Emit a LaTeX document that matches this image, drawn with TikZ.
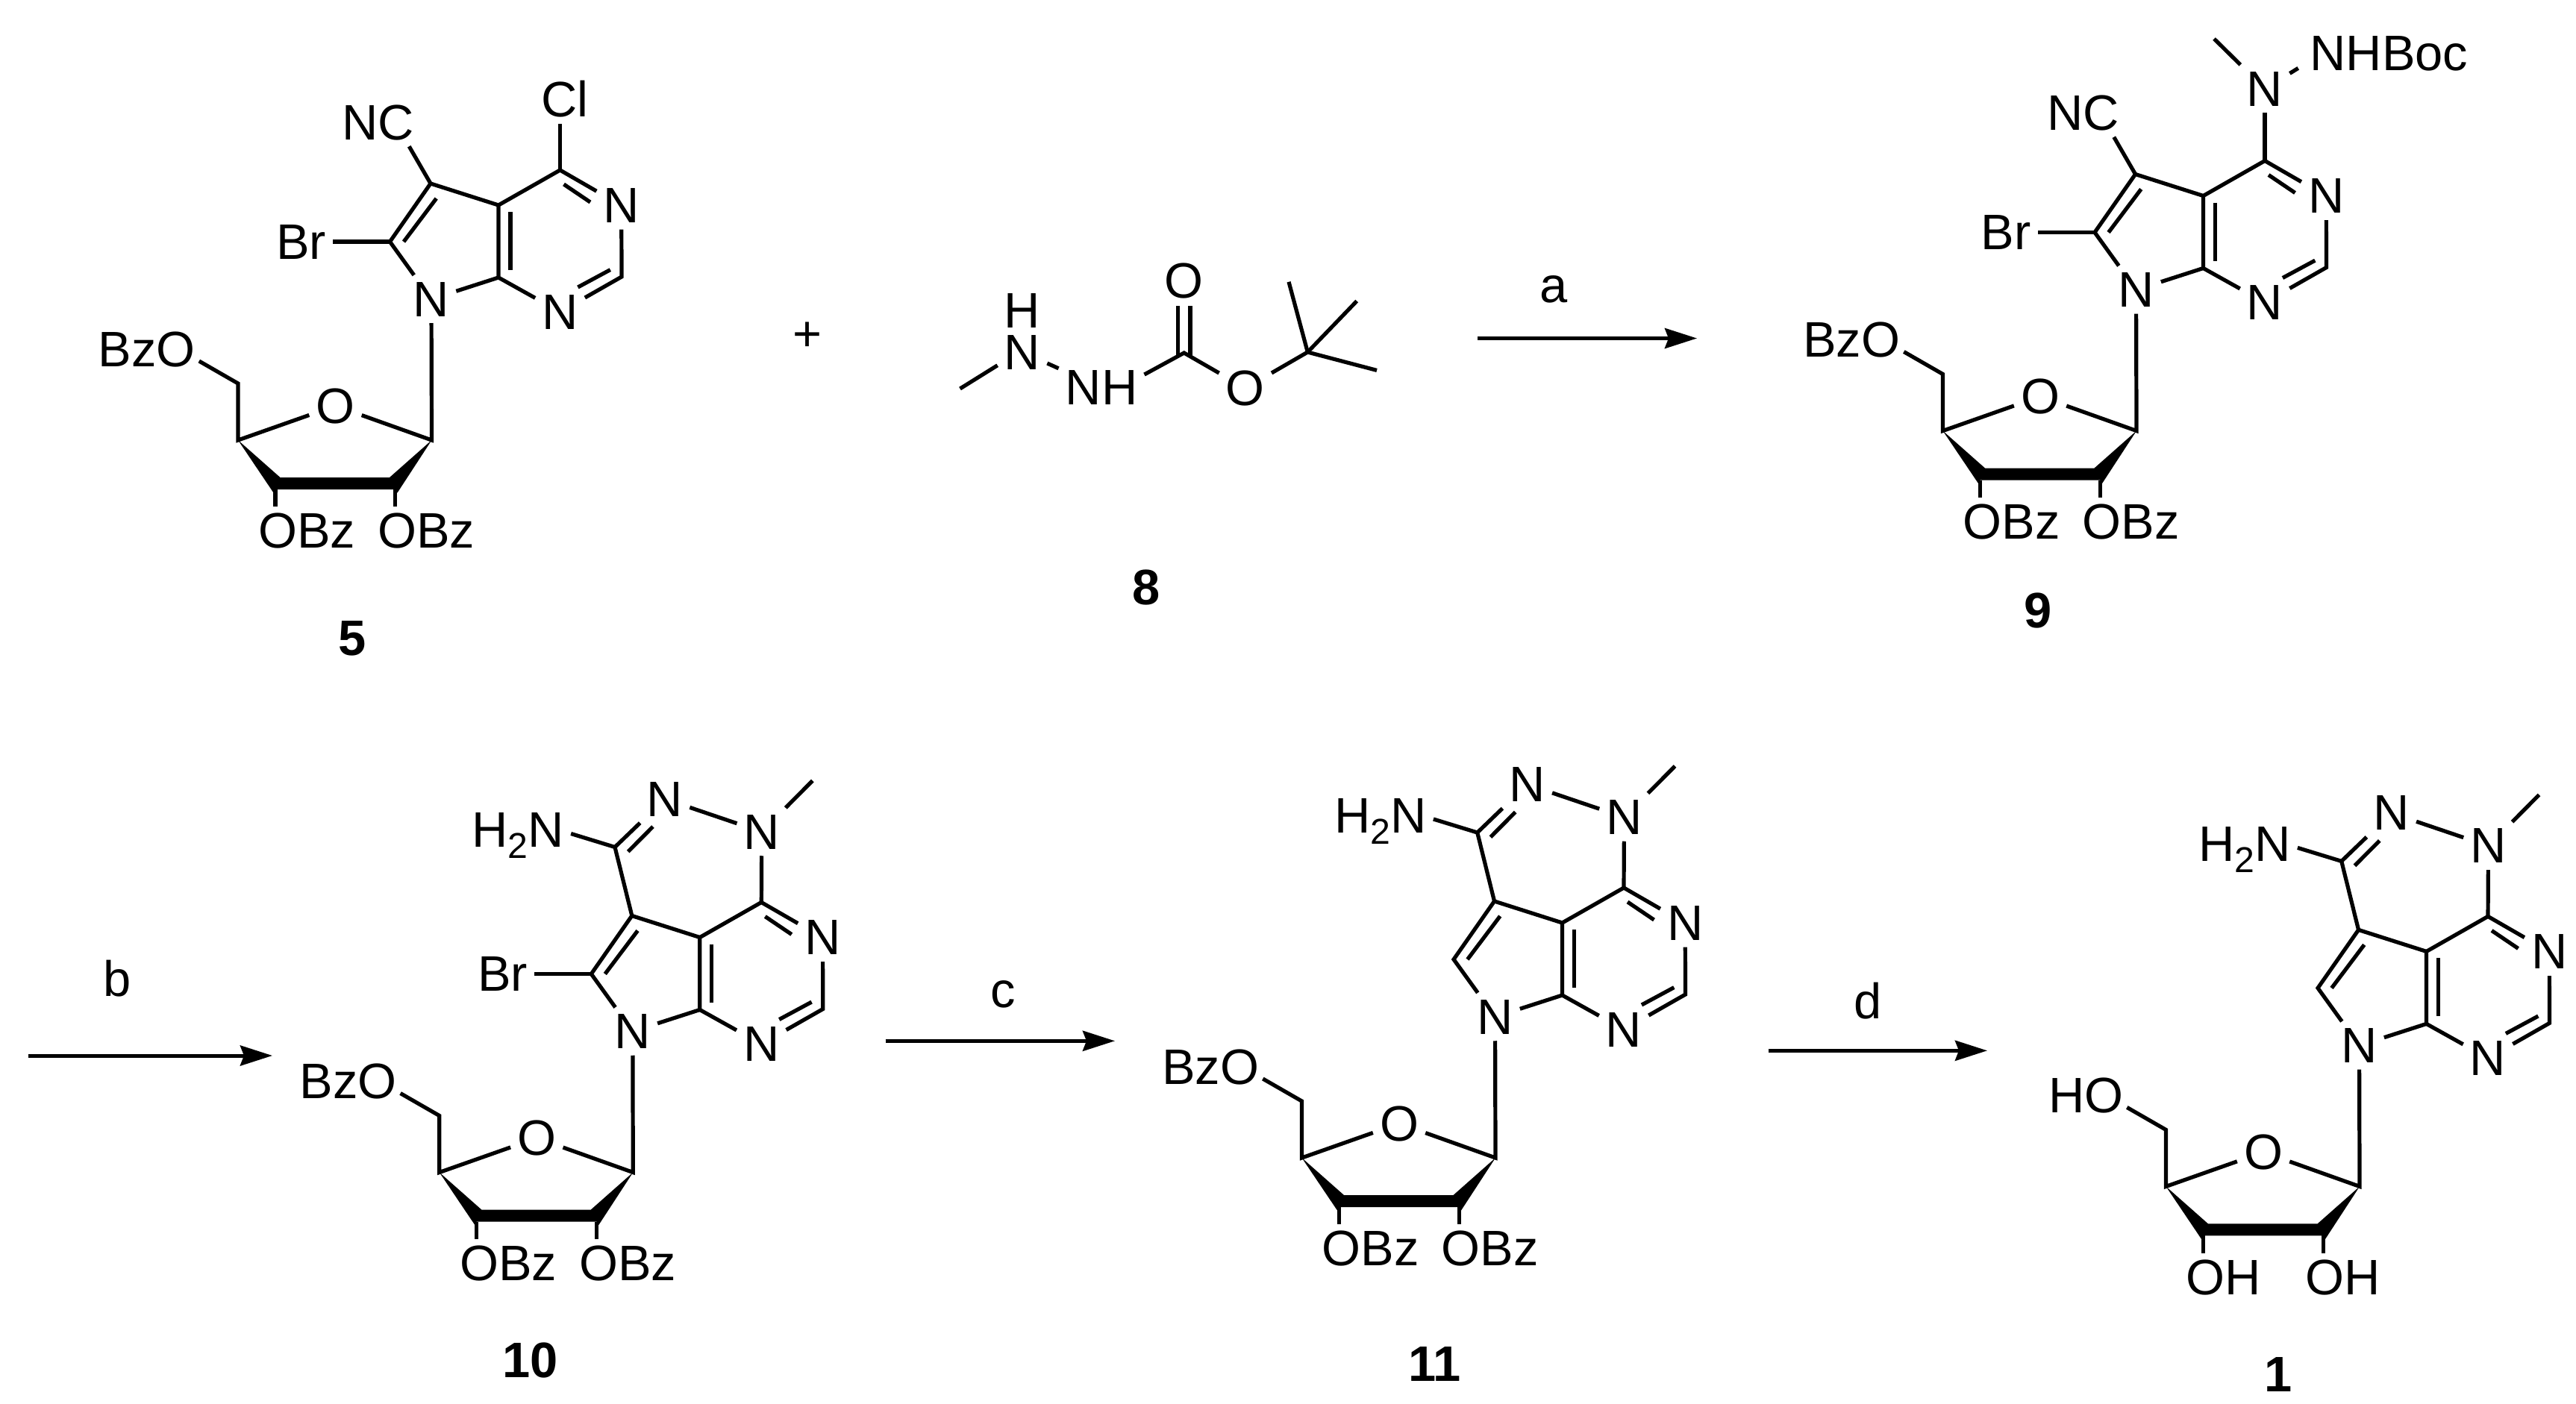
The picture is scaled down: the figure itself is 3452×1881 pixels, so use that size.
\documentclass[tikz,border=0pt]{standalone}
\usepackage{fontspec}
\setmainfont{Liberation Sans}
\usetikzlibrary{arrows.meta}

\tikzset{
  atom/.style={font=\fontsize{19pt}{19pt}\selectfont, text height=0.46cm, text depth=0pt, inner sep=0.085cm},
  cpdlabel/.style={atom, font=\fontsize{19pt}{19pt}\selectfont\bfseries},
  bond/.style={line width=0.052cm, line join=miter},
  rxnarrow/.style={line width=0.05cm, -{Stealth[length=0.43cm, width=0.27cm, inset=0.05cm]}}
}

\newcommand{\subtwo}{\raisebox{-0.23em}{\fontsize{13.7pt}{13.7pt}\selectfont 2}}

\newcommand{\fusedrings}{
  \coordinate (c4) at (750.5,228);
  \coordinate (c2) at (833,371);
  \coordinate (c7a) at (668,372);
  \coordinate (c4a) at (668,275);
  \coordinate (c5) at (577,246);
  \coordinate (c6) at (522.5,324);
  \node[atom] (n3) at (832.7,275.4) {N};
  \node[atom] (n1) at (750.5,418) {N};
  \node[atom] (n7) at (578,401) {N};
  \draw[bond] (n3) -- (c4) -- (c4a) -- (c7a) -- (n1);
  \draw[bond] (n1) -- (c2) -- (n3);
  \draw[bond] (c4a) -- (c5) -- (c6) -- (n7) -- (c7a);
  \coordinate (da1) at (755.5,247);
  \coordinate (da2) at (791,271);
  \coordinate (db1) at (817.8,361.6);
  \coordinate (db2) at (774.4,385);
  \coordinate (dc1) at (684,284);
  \coordinate (dc2) at (684,362);
  \coordinate (dd1) at (584.7,266);
  \coordinate (dd2) at (541,324);
  \draw[bond] (da1) -- (da2);
  \draw[bond] (db1) -- (db2);
  \draw[bond] (dc1) -- (dc2);
  \draw[bond] (dd1) -- (dd2);
}

\newcommand{\ribosering}[3]{
  \coordinate (c1r) at (578.5,590);
  \coordinate (c4r) at (319,590);
  \coordinate (c5r) at (319,514);
  \coordinate (c3r) at (369,656);
  \coordinate (c2r) at (529.6,656);
  \coordinate (o5end) at (266.8,484);
  \coordinate (wa) at (375.5,640);
  \coordinate (wb) at (522,640);
  \coordinate (wc) at (532.5,660.5);
  \coordinate (wd) at (366.5,660.5);
  \node[atom] (o4r) at (449.5,544) {O};
  \node[atom, anchor=east] (o5) at (271,468) {#1};
  \node[atom, anchor=west] (o3) at (337,711.6) {#2};
  \node[atom, anchor=west] (o2) at (497,711.6) {#3};
  \draw[bond] (n7) -- (c1r) -- (o4r) -- (c4r) -- (c5r) -- (o5end);
  \fill (c4r) -- (wa) -- (wb) -- (c1r) -- (wc) -- (c2r) -- (c3r) -- (wd) -- cycle;
  \draw[bond] (c3r) -- (o3.north -| c3r);
  \draw[bond] (c2r) -- (o2.north -| c2r);
}

\newcommand{\diazinering}{
  \coordinate (c3d) at (554.2,154);
  \coordinate (me) at (819,65);
  \coordinate (de1) at (571.9,160);
  \coordinate (de2) at (605.2,126.5);
  \node[atom] (n2d) at (621.2,89.5) {N};
  \node[atom] (n1d) at (751,133.5) {N};
  \node[atom] (nh2) at (424.5,131) {H\subtwo N};
  \draw[bond] (c5) -- (c3d) -- (n2d) -- (n1d) -- (c4);
  \draw[bond] (n1d) -- (me);
  \draw[bond] (c3d) -- (nh2.-4.6);
  \draw[bond] (de1) -- (de2);
}

\begin{document}
\begin{tikzpicture}[x=0.01cm, y=-0.01cm]
  \useasboundingbox (0,0) rectangle (3452,1881);

  \begin{scope}[name prefix=m5-]
    \fusedrings
    \ribosering{BzO}{OBz}{OBz}
    \node[atom] (cl) at (757,133.6) {Cl};
    \node[atom] (nc) at (507,164) {NC};
    \node[atom] (br) at (403.6,324) {Br};
    \draw[bond] (c4) -- (cl.south -| c4);
    \draw[bond] (c5) -- (nc.-38);
    \draw[bond] (c6) -- (br);
  \end{scope}

  \node[atom] (plus) at (1082,447) {+};

  \begin{scope}[name prefix=m8-]
    \coordinate (cco) at (1586.7,473);
    \coordinate (ctb) at (1752.3,472);
    \coordinate (mea) at (1286.5,521);
    \coordinate (meb) at (1727,377.8);
    \coordinate (mec) at (1818.2,403.5);
    \coordinate (med) at (1845,496.4);
    \coordinate (doa1) at (1578.3,410);
    \coordinate (doa2) at (1578.3,477);
    \coordinate (dob1) at (1595,410);
    \coordinate (dob2) at (1595,477);
    \node[atom] (h) at (1370,416.8) {H};
    \node[atom] (n) at (1370,472) {N};
    \node[atom] (nh) at (1476,519.6) {NH};
    \node[atom] (oe) at (1668.8,520.3) {O};
    \node[atom] (oc) at (1586.7,376.8) {O};
    \draw[bond] (mea) -- (n.208);
    \draw[bond] (n) -- (nh);
    \draw[bond] (nh.17) -- (cco) -- (oe) -- (ctb);
    \draw[bond] (doa1) -- (doa2);
    \draw[bond] (dob1) -- (dob2);
    \draw[bond] (meb) -- (ctb);
    \draw[bond] (mec) -- (ctb);
    \draw[bond] (med) -- (ctb);
  \end{scope}

  \begin{scope}[shift={(2284.5,-12.5)}, name prefix=m9-]
    \fusedrings
    \ribosering{BzO}{OBz}{OBz}
    \node[atom] (nc) at (507,164) {NC};
    \node[atom] (br) at (403.6,324) {Br};
    \node[atom] (nm) at (750.5,131.5) {N};
    \node[atom] (nhb) at (917,83.5) {NHBoc};
    \coordinate (me) at (682.5,64.5);
    \draw[bond] (c4) -- (nm);
    \draw[bond] (nm) -- (me);
    \draw[bond, shorten >=0.08cm] (nm) -- (nhb.188.5);
    \draw[bond] (c5) -- (nc.-38);
    \draw[bond] (c6) -- (br);
  \end{scope}

  \begin{scope}[shift={(269.8,981.5)}, name prefix=m10-]
    \fusedrings
    \ribosering{BzO}{OBz}{OBz}
    \diazinering
    \node[atom] (br) at (403.6,324) {Br};
    \draw[bond] (c6) -- (br);
  \end{scope}

  \begin{scope}[shift={(1425.5,962)}, name prefix=m11-]
    \fusedrings
    \ribosering{BzO}{OBz}{OBz}
    \diazinering
  \end{scope}

  \begin{scope}[shift={(2583.5,1000.4)}, name prefix=m1-]
    \fusedrings
    \ribosering{HO}{OH}{OH}
    \diazinering
  \end{scope}

  \node[cpdlabel] (lab5) at (472,855) {5};
  \node[cpdlabel] (lab8) at (1536,787) {8};
  \node[cpdlabel] (lab9) at (2731.5,818) {9};
  \node[cpdlabel] (lab10) at (710.6,1823) {10};
  \node[cpdlabel] (lab11) at (1922.7,1828) {11};
  \node[cpdlabel] (lab1) at (3053.5,1842) {1};

  \coordinate (aa) at (1980,453.5);
  \coordinate (ab) at (2274,453.5);
  \coordinate (ba) at (37.7,1415);
  \coordinate (bb) at (365,1415);
  \coordinate (ca) at (1186.7,1395.3);
  \coordinate (cb) at (1494,1395.3);
  \coordinate (da) at (2370,1408.3);
  \coordinate (db) at (2663,1408.3);
  \draw[rxnarrow] (aa) -- (ab);
  \draw[rxnarrow] (ba) -- (bb);
  \draw[rxnarrow] (ca) -- (cb);
  \draw[rxnarrow] (da) -- (db);
  \node[atom] (stepa) at (2082.5,382) {a};
  \node[atom] (stepb) at (157,1312.6) {b};
  \node[atom] (stepc) at (1344,1327.7) {c};
  \node[atom] (stepd) at (2503,1342) {d};
\end{tikzpicture}
\end{document}
